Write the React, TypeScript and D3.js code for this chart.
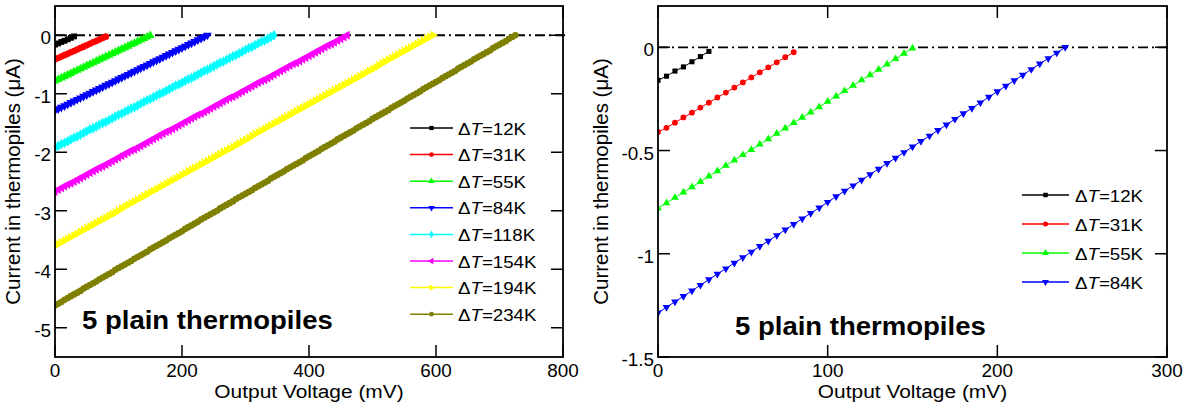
import React from 'react';
import * as d3 from 'd3';

// ---- data ----
const V_STEP_MV = 5; // spacing of the measured points along the voltage axis
const DT_LABELS = ['12K', '31K', '55K', '84K', '118K', '154K', '194K', '234K'];
const SERIES_COLORS = ['#000000', '#ff0000', '#00ff00', '#0000ff', '#00ffff', '#ff00ff', '#ffff00', '#808000'];
const SERIES_SYMBOLS = ['square', 'circle', 'triUp', 'triDown', 'diamond', 'triLeft', 'triRight', 'circle'];

const I_12K = [-0.16, -0.14, -0.115, -0.095, -0.07, -0.045, -0.02];
const I_31K = [-0.41, -0.39, -0.365, -0.34, -0.317, -0.292, -0.268, -0.243, -0.219, -0.195, -0.17, -0.146, -0.121, -0.097, -0.073, -0.048, -0.024];
const I_55K = [-0.78, -0.754, -0.728, -0.702, -0.677, -0.651, -0.625, -0.599, -0.573, -0.547,
  -0.521, -0.496, -0.47, -0.444, -0.418, -0.392, -0.366, -0.34, -0.315, -0.289,
  -0.263, -0.237, -0.211, -0.185, -0.159, -0.134, -0.108, -0.082, -0.056, -0.03, -0.005];
const I_84K = [-1.286, -1.259, -1.232, -1.206, -1.179, -1.152, -1.125, -1.098, -1.072, -1.045,
  -1.018, -0.991, -0.964, -0.938, -0.911, -0.884, -0.857, -0.83, -0.804, -0.777,
  -0.75, -0.723, -0.696, -0.67, -0.643, -0.616, -0.589, -0.562, -0.536, -0.509,
  -0.482, -0.455, -0.429, -0.402, -0.375, -0.348, -0.321, -0.295, -0.268, -0.241,
  -0.214, -0.187, -0.161, -0.134, -0.107, -0.08, -0.054, -0.027, 0];
const I_118K = [-1.92, -1.89, -1.86, -1.84, -1.81, -1.78, -1.75, -1.73, -1.70, -1.67,
  -1.64, -1.61, -1.59, -1.56, -1.53, -1.50, -1.48, -1.45, -1.42, -1.39,
  -1.36, -1.34, -1.31, -1.28, -1.25, -1.23, -1.20, -1.17, -1.14, -1.11,
  -1.09, -1.06, -1.03, -1.00, -0.98, -0.95, -0.92, -0.89, -0.86, -0.84,
  -0.81, -0.78, -0.75, -0.73, -0.70, -0.67, -0.64, -0.61, -0.59, -0.56,
  -0.53, -0.50, -0.47, -0.45, -0.42, -0.39, -0.36, -0.34, -0.31, -0.28,
  -0.25, -0.22, -0.20, -0.17, -0.14, -0.11, -0.09, -0.06, -0.03, 0.00];
const I_154K = [-2.67, -2.64, -2.61, -2.58, -2.55, -2.53, -2.50, -2.47, -2.44, -2.41,
  -2.38, -2.35, -2.32, -2.29, -2.26, -2.24, -2.21, -2.18, -2.15, -2.12,
  -2.09, -2.06, -2.03, -2.00, -1.97, -1.95, -1.92, -1.89, -1.86, -1.83,
  -1.80, -1.77, -1.74, -1.71, -1.68, -1.65, -1.63, -1.60, -1.57, -1.54,
  -1.51, -1.48, -1.45, -1.42, -1.39, -1.36, -1.34, -1.31, -1.28, -1.25,
  -1.22, -1.19, -1.16, -1.13, -1.10, -1.07, -1.05, -1.02, -0.99, -0.96,
  -0.93, -0.90, -0.87, -0.84, -0.81, -0.78, -0.76, -0.73, -0.70, -0.67,
  -0.64, -0.61, -0.58, -0.55, -0.52, -0.49, -0.47, -0.44, -0.41, -0.38,
  -0.35, -0.32, -0.29, -0.26, -0.23, -0.20, -0.17, -0.15, -0.12, -0.09,
  -0.06, -0.03, 0.00];
const I_194K = [-3.60, -3.57, -3.54, -3.51, -3.48, -3.45, -3.42, -3.39, -3.36, -3.33,
  -3.30, -3.27, -3.24, -3.21, -3.18, -3.15, -3.12, -3.09, -3.06, -3.03,
  -3.00, -2.96, -2.93, -2.90, -2.87, -2.84, -2.81, -2.78, -2.75, -2.72,
  -2.69, -2.66, -2.63, -2.60, -2.57, -2.54, -2.51, -2.48, -2.45, -2.42,
  -2.39, -2.36, -2.33, -2.30, -2.27, -2.24, -2.21, -2.18, -2.15, -2.12,
  -2.09, -2.06, -2.03, -2.00, -1.97, -1.94, -1.91, -1.88, -1.85, -1.82,
  -1.79, -1.76, -1.72, -1.69, -1.66, -1.63, -1.60, -1.57, -1.54, -1.51,
  -1.48, -1.45, -1.42, -1.39, -1.36, -1.33, -1.30, -1.27, -1.24, -1.21,
  -1.18, -1.15, -1.12, -1.09, -1.06, -1.03, -1.00, -0.97, -0.94, -0.91,
  -0.88, -0.85, -0.82, -0.79, -0.76, -0.73, -0.70, -0.67, -0.64, -0.61,
  -0.58, -0.55, -0.51, -0.48, -0.45, -0.42, -0.39, -0.36, -0.33, -0.30,
  -0.27, -0.24, -0.21, -0.18, -0.15, -0.12, -0.09, -0.06, -0.03, 0.00];
const I_234K = [-4.62, -4.59, -4.56, -4.52, -4.49, -4.46, -4.43, -4.40, -4.37, -4.33,
  -4.30, -4.27, -4.24, -4.21, -4.17, -4.14, -4.11, -4.08, -4.05, -4.01,
  -3.98, -3.95, -3.92, -3.89, -3.86, -3.82, -3.79, -3.76, -3.73, -3.70,
  -3.66, -3.63, -3.60, -3.57, -3.54, -3.51, -3.47, -3.44, -3.41, -3.38,
  -3.35, -3.31, -3.28, -3.25, -3.22, -3.19, -3.15, -3.12, -3.09, -3.06,
  -3.03, -3.00, -2.96, -2.93, -2.90, -2.87, -2.84, -2.80, -2.77, -2.74,
  -2.71, -2.68, -2.65, -2.61, -2.58, -2.55, -2.52, -2.49, -2.45, -2.42,
  -2.39, -2.36, -2.33, -2.29, -2.26, -2.23, -2.20, -2.17, -2.14, -2.10,
  -2.07, -2.04, -2.01, -1.98, -1.94, -1.91, -1.88, -1.85, -1.82, -1.78,
  -1.75, -1.72, -1.69, -1.66, -1.63, -1.59, -1.56, -1.53, -1.50, -1.47,
  -1.43, -1.40, -1.37, -1.34, -1.31, -1.28, -1.24, -1.21, -1.18, -1.15,
  -1.12, -1.08, -1.05, -1.02, -0.99, -0.96, -0.92, -0.89, -0.86, -0.83,
  -0.80, -0.77, -0.73, -0.70, -0.67, -0.64, -0.61, -0.57, -0.54, -0.51,
  -0.48, -0.45, -0.41, -0.38, -0.35, -0.32, -0.29, -0.26, -0.22, -0.19,
  -0.16, -0.13, -0.10, -0.06, -0.03, 0.00];

const SERIES_CURRENTS = [I_12K, I_31K, I_55K, I_84K, I_118K, I_154K, I_194K, I_234K];

const LEFT_X_TICKS = [0, 200, 400, 600, 800];
const LEFT_Y_TICKS = [0, -1, -2, -3, -4, -5];
const RIGHT_X_TICKS = [0, 100, 200, 300];
const RIGHT_Y_TICKS = [0, -0.5, -1, -1.5];

const X_TITLE = 'Output Voltage (mV)';
const Y_TITLE = 'Current in thermopiles (\u03bcA)';
const ANNOTATION = '5 plain thermopiles';

const FONT = '"Liberation Sans", Arial, Helvetica, sans-serif';

// ---- helpers ----
function symbolPath(kind: string, size: number): string {
  const type = kind === 'square' ? d3.symbolSquare
    : kind === 'circle' ? d3.symbolCircle
    : kind === 'diamond' ? d3.symbolDiamond
    : d3.symbolTriangle;
  return d3.symbol().type(type).size(size)() || '';
}
function symbolRotation(kind: string): number {
  if (kind === 'triDown') return 180;
  if (kind === 'triLeft') return -90;
  if (kind === 'triRight') return 90;
  return 0;
}

function Txt(props: any) {
  const { x, y, sx = 1, rotate = 0, anchor = 'start', size, weight = 'normal', children } = props;
  const tr = `translate(${x},${y})${rotate ? ` rotate(${rotate})` : ''} scale(${sx},1)`;
  return (
    <text transform={tr} textAnchor={anchor} fontSize={size} fontWeight={weight} fontFamily={FONT} fill="#000">
      {children}
    </text>
  );
}

function Marker({ kind, color, size, cx, cy }: any) {
  return (
    <path
      d={symbolPath(kind, size)}
      transform={`translate(${cx},${cy}) rotate(${symbolRotation(kind)})`}
      fill={color}
      stroke="none"
    />
  );
}

function Panel(props: any) {
  const {
    id, x0, x1, y0, y1, xDomain, yDomain, xTicks, yTicks, seriesIdx, markerSize, lineWidth,
    legend, annotation, yTitleX,
  } = props;
  const x = d3.scaleLinear().domain(xDomain).range([x0, x1]);
  const y = d3.scaleLinear().domain(yDomain).range([y1, y0]);
  const line = d3.line<number>().x((_, i) => x(i * V_STEP_MV)).y((d) => y(d));
  const TICK = 12;
  const clipId = `clip-${id}`;

  return (
    <g>
      <defs>
        <clipPath id={clipId}>
          <rect x={x0} y={y0} width={x1 - x0} height={y1 - y0} />
        </clipPath>
      </defs>
      {/* zero reference line */}
      <line x1={x0} x2={x1 + 2} y1={y(0)} y2={y(0)} stroke="#000" strokeWidth={1.8} strokeDasharray="10,4,2,4" />
      {/* series */}
      <g clipPath={`url(#${clipId})`}>
        {seriesIdx.map((si: number) => {
          const data = SERIES_CURRENTS[si];
          return (
            <g key={si}>
              <path d={line(data) || ''} fill="none" stroke={SERIES_COLORS[si]} strokeWidth={lineWidth} />
              {data.map((d, i) => (
                <Marker key={i} kind={SERIES_SYMBOLS[si]} color={SERIES_COLORS[si]} size={markerSize}
                  cx={x(i * V_STEP_MV)} cy={y(d)} />
              ))}
            </g>
          );
        })}
      </g>
      {/* frame */}
      <rect x={x0} y={y0} width={x1 - x0} height={y1 - y0} fill="none" stroke="#000" strokeWidth={1.8} />
      {/* x ticks (bottom + top, inward) */}
      {xTicks.map((t: number) => (
        <g key={`xt${t}`}>
          <line x1={x(t)} x2={x(t)} y1={y1} y2={y1 - TICK} stroke="#000" strokeWidth={1.5} />
          <line x1={x(t)} x2={x(t)} y1={y0} y2={y0 + TICK} stroke="#000" strokeWidth={1.5} />
          <Txt x={x(t)} y={y1 + 20} sx={1.08} anchor="middle" size={17.5}>{String(t)}</Txt>
        </g>
      ))}
      {/* y ticks (left + right, inward) */}
      {yTicks.map((t: number) => (
        <g key={`yt${t}`}>
          <line x1={x0} x2={x0 + TICK} y1={y(t)} y2={y(t)} stroke="#000" strokeWidth={1.5} />
          <line x1={x1} x2={x1 - TICK} y1={y(t)} y2={y(t)} stroke="#000" strokeWidth={1.5} />
          <Txt x={x0 - 4} y={y(t) + 9} sx={1.08} anchor="end" size={17.5}>{String(t)}</Txt>
        </g>
      ))}
      {/* axis titles */}
      <Txt x={(x0 + x1) / 2} y={398} sx={1.1} anchor="middle" size={19}>{X_TITLE}</Txt>
      <Txt x={yTitleX + 7} y={(y0 + y1) / 2} rotate={-90} sx={1} anchor="middle" size={20.5}>{Y_TITLE}</Txt>
      {/* annotation */}
      <Txt x={annotation.x} y={annotation.y} sx={1.08} size={25.5} weight="bold">{ANNOTATION}</Txt>
      {/* legend */}
      {seriesIdx.map((si: number, k: number) => {
        const ly = legend.y0 + k * legend.dy;
        return (
          <g key={`lg${si}`}>
            <line x1={legend.lineX0} x2={legend.lineX1} y1={ly} y2={ly} stroke={SERIES_COLORS[si]} strokeWidth={1.5} />
            <Marker kind={SERIES_SYMBOLS[si]} color={SERIES_COLORS[si]} size={legend.markerSize}
              cx={(legend.lineX0 + legend.lineX1) / 2} cy={ly} />
            <text transform={`translate(${legend.textX},${ly + 6.5}) scale(1.1,1)`} fontSize={17} fontFamily={FONT} fill="#000">
              {'\u0394'}<tspan fontStyle="italic">T</tspan>{`=${DT_LABELS[si]}`}
            </text>
          </g>
        );
      })}
    </g>
  );
}

export default function App() {
  return (
    <div style={{ position: 'absolute', left: 0, top: 0 }}>
      <svg width={1197} height={405} viewBox="0 0 1197 405" style={{ display: 'block', background: '#fff' }}>
        <rect x={0} y={0} width={1197} height={405} fill="#fff" />
        <Panel
          id="left"
          x0={55} x1={563} y0={6} y1={357}
          xDomain={[0, 800]} yDomain={[-5.5, 0.5]}
          xTicks={LEFT_X_TICKS} yTicks={LEFT_Y_TICKS}
          seriesIdx={[0, 1, 2, 3, 4, 5, 6, 7]}
          markerSize={34} lineWidth={1.5}
          yTitleX={13}
          annotation={{ x: 82, y: 329 }}
          legend={{ lineX0: 410, lineX1: 453, textX: 458, y0: 128, dy: 26.6, markerSize: 18 }}
        />
        <Panel
          id="right"
          x0={658} x1={1167} y0={6} y1={357}
          xDomain={[0, 300]} yDomain={[-1.5, 0.2]}
          xTicks={RIGHT_X_TICKS} yTicks={RIGHT_Y_TICKS}
          seriesIdx={[0, 1, 2, 3]}
          markerSize={26} lineWidth={1}
          yTitleX={601}
          annotation={{ x: 735, y: 335 }}
          legend={{ lineX0: 1022, lineX1: 1069, textX: 1075, y0: 195, dy: 29, markerSize: 20 }}
        />
      </svg>
    </div>
  );
}
